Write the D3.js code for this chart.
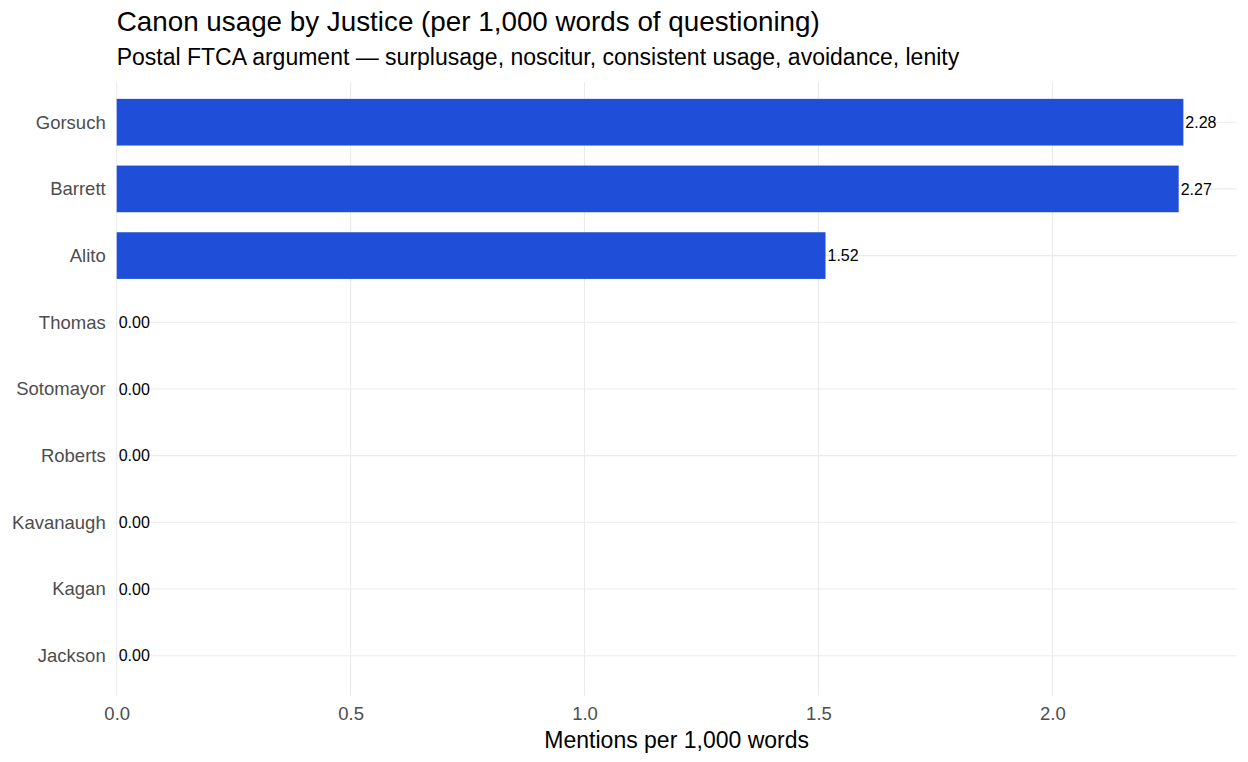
<!DOCTYPE html>
<html><head><meta charset="utf-8">
<script src="https://cdn.jsdelivr.net/npm/d3@7"></script>
<style>body{margin:0;background:#fff}svg{display:block}text{font-family:"Liberation Sans",Arial,sans-serif}</style>
</head><body><svg id="c" width="1248" height="762"></svg>
<script>
const justices = ["Gorsuch","Barrett","Alito","Thomas","Sotomayor","Roberts","Kavanaugh","Kagan","Jackson"];
const values = [2.28, 2.27, 1.5151, 0, 0, 0, 0, 0, 0];
const xTicks = [0, 0.5, 1.0, 1.5, 2.0];
const title = "Canon usage by Justice (per 1,000 words of questioning)";
const subtitle = "Postal FTCA argument \u2014 surplusage, noscitur, consistent usage, avoidance, lenity";
const xTitle = "Mentions per 1,000 words";

const svg = d3.select("#c");
const L = 116.7, R = 1236.7, T = 82.2, B = 695.7;
const maxV = d3.max(values);
const x = d3.scaleLinear().domain([0, maxV * 1.05]).range([L, R]);
const step = (B - T) / (justices.length - 1 + 1.2);
const y = d3.scalePoint().domain(justices).range([T + 0.6 * step, B - 0.6 * step]);
const bh = step * 0.7;

const g = svg.append("g");
g.selectAll(".vg").data(xTicks).join("line")
  .attr("x1", d => x(d)).attr("x2", d => x(d)).attr("y1", T).attr("y2", B)
  .attr("stroke", "#ebebeb").attr("stroke-width", 1.1);
g.selectAll(".hg").data(justices).join("line")
  .attr("x1", L).attr("x2", R).attr("y1", d => y(d)).attr("y2", d => y(d))
  .attr("stroke", "#ebebeb").attr("stroke-width", 1.1);

g.selectAll(".bar").data(justices).join("rect")
  .attr("x", x(0)).attr("y", d => y(d) - bh / 2)
  .attr("width", (d, i) => x(values[i]) - x(0)).attr("height", bh)
  .attr("fill", "#1f4fd8");

g.selectAll(".vl").data(justices).join("text")
  .attr("x", (d, i) => x(values[i]) + 2).attr("y", d => y(d)).attr("dy", "0.36em")
  .attr("font-size", 16).attr("fill", "#000")
  .text((d, i) => d3.format(".2f")(values[i]));

const xa = svg.append("g").attr("transform", `translate(0,${B})`)
  .call(d3.axisBottom(x).tickValues(xTicks).tickFormat(d3.format(".1f")).tickSize(0).tickPadding(11));
xa.select(".domain").remove();
xa.selectAll("text").attr("font-size", 18.5).attr("fill", "#4d4d4d").attr("font-family", "Liberation Sans, Arial, sans-serif");

const ya = svg.append("g").attr("transform", `translate(${L},0)`)
  .call(d3.axisLeft(y).tickSize(0).tickPadding(11));
ya.select(".domain").remove();
ya.selectAll("text").attr("font-size", 18.5).attr("fill", "#4d4d4d").attr("font-family", "Liberation Sans, Arial, sans-serif");

svg.append("text").attr("x", L).attr("y", 31).attr("font-size", 27.8).attr("fill", "#000").text(title);
svg.append("text").attr("x", L).attr("y", 65).attr("font-size", 23).attr("fill", "#000").text(subtitle);
svg.append("text").attr("x", (L + R) / 2).attr("y", 748).attr("text-anchor", "middle")
  .attr("font-size", 23).attr("fill", "#000").text(xTitle);
</script></body></html>
